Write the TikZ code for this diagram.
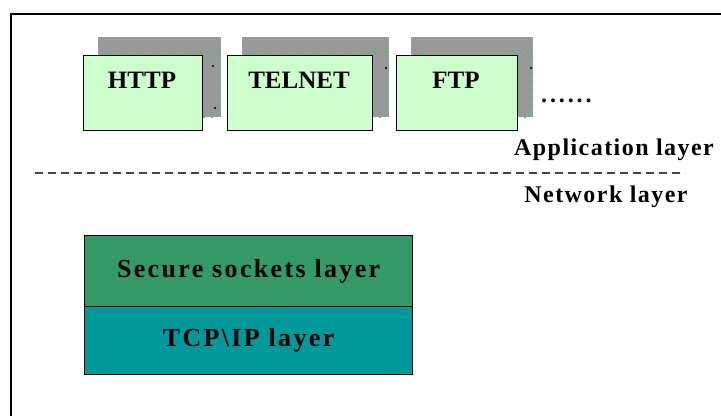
\documentclass[tikz,border=0pt]{standalone}
\usepackage{fontspec}
\setmainfont{Liberation Serif}[BoldFont={Liberation Serif Bold}]
\definecolor{appfill}{HTML}{CCFFCC}
\definecolor{shadowgray}{HTML}{999999}
\definecolor{dotgreen}{HTML}{33CC66}
\definecolor{sslgreen}{HTML}{339966}
\definecolor{tcpteal}{HTML}{009999}
\definecolor{dashgray}{HTML}{444444}
\tikzset{
  appbox/.style={draw=black, line width=1.3pt, fill=appfill},
  shadowbox/.style={fill=shadowgray, draw=none},
  shadowdots/.style={draw=dotgreen, line width=1.8pt, dash pattern=on 1.8pt off 6.2pt},
  applabel/.style={font=\fontsize{25}{28}\selectfont\bfseries, anchor=center},
  layerlabel/.style={font=\fontsize{24}{28}\selectfont\bfseries\addfontfeature{LetterSpace=6}, anchor=center},
  stacklabel/.style={font=\fontsize{26}{30}\selectfont\bfseries\addfontfeature{LetterSpace=9}, anchor=center},
  stackbox/.style={draw=black, line width=1.3pt},
}
\begin{document}
\begin{tikzpicture}[x=1pt, y=-1pt]
  \useasboundingbox (0,0) rectangle (721,416);
  % frame along top and left
  \draw[line width=1.6pt] (721,14) -- (11,14) -- (11,416);

  % shadows behind the application boxes
  \foreach \xa/\xb in {98/221, 242/389, 411/533} {
    \fill[shadowbox] (\xa,37) rectangle (\xb,117);
    \draw[shadowdots] (\xa+10,52) rectangle (\xb-3,117);
  }
  \fill (213,66) circle (1.2pt);
  \fill (215,108) circle (1.2pt);
  \fill (386,68) circle (1.2pt);
  \fill (531,68) circle (1.2pt);

  % application protocols
  \node[appbox, minimum width=119pt, minimum height=75pt, anchor=north west] (http) at (83,55) {};
  \node[appbox, minimum width=145pt, minimum height=75pt, anchor=north west] (telnet) at (227,55) {};
  \node[appbox, minimum width=121pt, minimum height=75pt, anchor=north west] (ftp) at (396,55) {};
  \node[applabel] (httpt) at (142,80) {HTTP};
  \node[applabel] (telnett) at (299,80) {TELNET};
  \node[applabel] (ftpt) at (456,80) {FTP};
  \node[applabel, anchor=west, inner sep=0pt, font=\fontsize{24}{28}\selectfont\bfseries\addfontfeature{LetterSpace=12}] (more) at (541,101) {......};

  % layer boundary
  \node[layerlabel] (app) at (614,150) {Application layer};
  \coordinate (dl) at (35,173);
  \coordinate (dr) at (685,173);
  \draw[dashgray, line width=1.4pt, dash pattern=on 8pt off 5pt] (dl) -- (dr);
  \node[layerlabel] (net) at (606,197) {Network layer};

  % protocol stack
  \node[stackbox, fill=sslgreen, minimum width=328pt, minimum height=71pt, anchor=north west] (ssl) at (84,235) {};
  \node[stackbox, fill=tcpteal, minimum width=328pt, minimum height=68pt, anchor=north west] (tcp) at (84,306) {};
  \node[stacklabel] (sslt) at (ssl.center) {Secure sockets layer};
  \node[stacklabel] (tcpt) at (tcp.center) {TCP\textbackslash IP layer};
\end{tikzpicture}
\end{document}
